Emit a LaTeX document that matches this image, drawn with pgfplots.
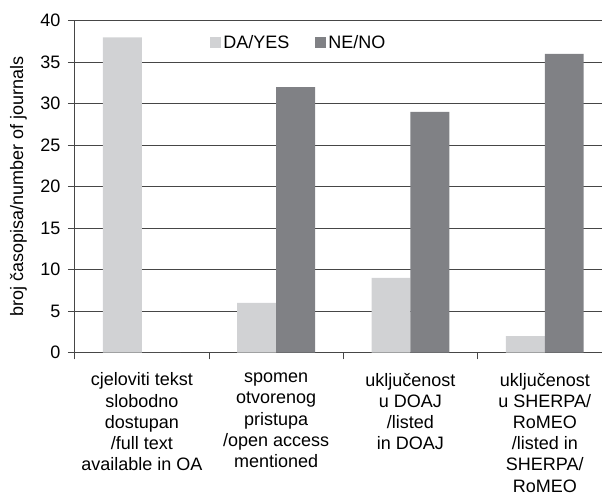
\documentclass[border=0pt]{standalone}
\usepackage{pgfplots}
\pgfplotsset{compat=1.18}
\usepackage{fontspec}
\setmainfont{Liberation Sans}
\definecolor{yescol}{RGB}{209,210,212}
\definecolor{nocol}{RGB}{128,129,133}
\definecolor{gridcol}{RGB}{70,70,70}
\begin{document}
\begin{tikzpicture}[x=1pt,y=1pt]
\useasboundingbox (0,0) rectangle (602,497);
\begin{axis}[
  at={(74.7pt,144.3pt)}, anchor=south west,
  scale only axis, width=527.3pt, height=332pt,
  font=\fontsize{18}{21.2}\selectfont,
  /pgf/number format/assume math mode=true,
  ybar=0pt, bar width=0.29,
  xmin=-0.5, xmax=3.426, ymin=0, ymax=40,
  ytick={0,5,...,40},
  xtick={0,1,2,3},
  xticklabels={{cjeloviti tekst\\slobodno\\dostupan\\/full text\\available in OA},
               {spomen\\otvorenog\\pristupa\\/open access\\mentioned},
               {uključenost\\u DOAJ\\/listed\\in DOAJ},
               {uključenost\\u SHERPA/\\RoMEO\\/listed in\\SHERPA/\\RoMEO}},
  xticklabel style={align=center, anchor=north, yshift=-10pt},
  major x tick style={draw=none},
  minor xtick={-0.5,0.5,1.5,2.5},
  minor tick length=6.7pt,
  minor x tick style={gridcol, line width=0.8pt},
  tick align=outside,
  major tick length=6.7pt,
  ytick style={gridcol, line width=0.8pt},
  yticklabel style={anchor=east, xshift=-4pt},
  axis x line*=bottom, axis y line*=left,
  x axis line style={-, gridcol, line width=1pt},
  y axis line style={-, gridcol, line width=0.8pt},
  ymajorgrids, grid style={gridcol, line width=0.8pt},
  ylabel={broj časopisa/number of journals},
  ylabel style={at={(axis description cs:-0.1066,0.5)}, anchor=center},
  legend columns=2,
  legend style={at={(0.425,0.933)}, anchor=center, draw=none, fill=white,
    /tikz/every even column/.append style={column sep=24pt},
    font=\fontsize{18}{21.2}\selectfont},
  legend image code/.code={\fill[#1] (0pt,-5.5pt) rectangle (11pt,5.5pt);},
]
\addplot[fill=yescol, draw=none] coordinates {(0,38) (1,6) (2,9) (3,2)};
\addplot[fill=nocol, draw=none] coordinates {(0,0) (1,32) (2,29) (3,36)};
\legend{DA/YES, NE/NO}
\end{axis}
\end{tikzpicture}
\end{document}
